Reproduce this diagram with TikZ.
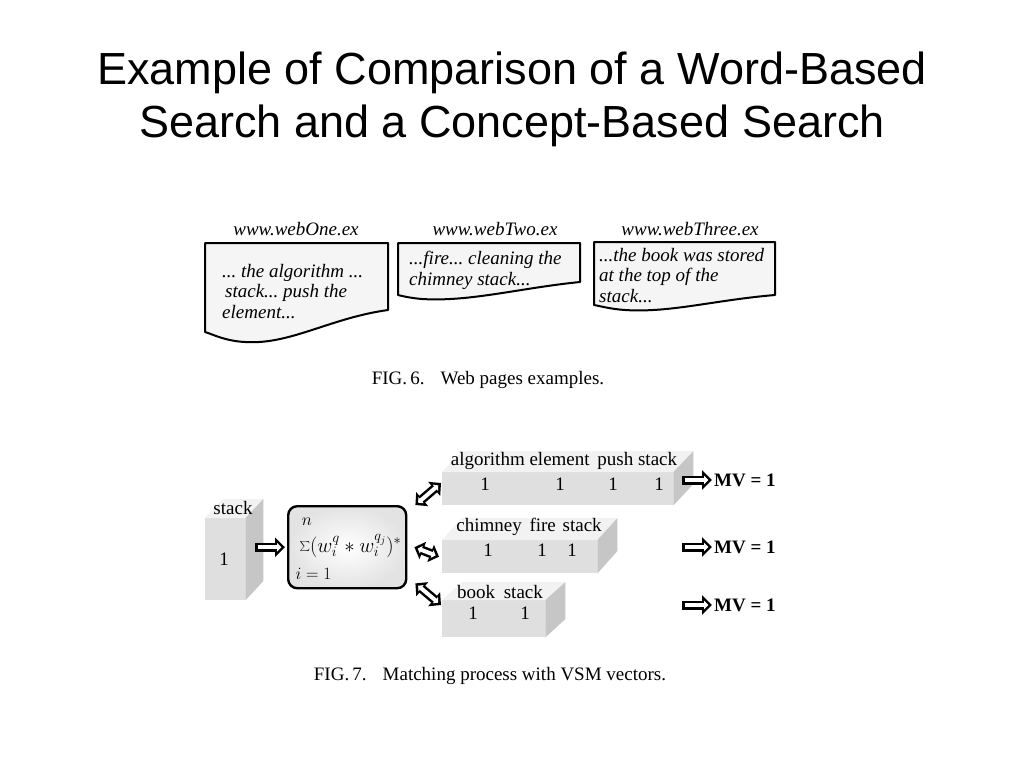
\documentclass[tikz,border=0pt]{standalone}
\usepackage{fontspec}
\setmainfont{Liberation Serif}
\newfontfamily\titlefont{Liberation Sans}
\usetikzlibrary{arrows.meta}
\frenchspacing

\tikzset{
  pagebox/.style={draw=black, line width=2pt, fill=gray!8, line join=round},
  urltext/.style={font=\fontsize{19}{21}\selectfont\itshape},
  pagetext/.style={font=\fontsize{19}{20.5}\selectfont\itshape, align=left, anchor=north west, inner sep=0pt},
  figcap/.style={font=\fontsize{19}{21}\selectfont},
  frontface/.style={fill=gray!25, draw=none, inner sep=0pt, anchor=north west},
  topface/.style={fill=gray!10},
  sideface/.style={fill=gray!45},
  celltext/.style={font=\fontsize{19}{21}\selectfont, inner sep=0pt},
  hollow/.style={line width=9pt, -{Triangle[length=10pt, width=19pt]},
    postaction={draw=white, line width=4pt, shorten <=2.5pt, shorten >=3.6pt,
      -{Triangle[length=4.4pt, width=8.6pt]}}},
  hollowboth/.style={line width=9pt, {Triangle[length=9pt, width=18pt]}-{Triangle[length=9pt, width=18pt]},
    postaction={draw=white, line width=4pt, shorten <=3.6pt, shorten >=3.6pt,
      {Triangle[length=3.8pt, width=7.8pt]}-{Triangle[length=3.8pt, width=7.8pt]}}},
  mvtext/.style={font=\fontsize{19}{21}\selectfont\bfseries, anchor=west, inner sep=0pt},
}

\begin{document}
\begin{tikzpicture}[x=1pt, y=-1pt, line join=round]
  \useasboundingbox[fill=white] (0,0) rectangle (1024,768);

  % title
  \node[font=\titlefont\fontsize{45}{53}\selectfont, align=center] (title) at (512,99)
    {Example of Comparison of a Word-Based\\Search and a Concept-Based Search};

  % web pages (fig. 6)
  \draw[pagebox] (205,243) -- (388,243) -- (388,310)
    .. controls (330,318) and (290,345) .. (245,342)
    .. controls (225,341) and (212,334) .. (205,332) -- cycle;
  \draw[pagebox] (398,243) -- (580,243) -- (580,282)
    .. controls (520,288) and (470,302) .. (422,299)
    .. controls (410,298) and (402,296) .. (398,295) -- cycle;
  \draw[pagebox] (594,242) -- (775,242) -- (775,295)
    .. controls (715,300) and (670,313) .. (625,310)
    .. controls (610,309) and (600,306) .. (594,305) -- cycle;

  \node[urltext] (url1) at (296,229) {www.webOne.ex};
  \node[urltext] (url2) at (495,229) {www.webTwo.ex};
  \node[urltext] (url3) at (690,229) {www.webThree.ex};

  \node[pagetext] (page1) at (222,264) {... the algorithm ...\\\hspace{3pt}stack... push the\\element...};
  \node[pagetext] (page2) at (409,251) {...fire... cleaning the\\chimney stack...};
  \node[pagetext] (page3) at (599,248) {...the book was stored\\at the top of the\\stack...};

  \node[figcap] (cap6) at (488,380) {FIG.\,6.\hspace{16pt}Web pages examples.};

  % query vector
  \node[frontface, minimum width=40, minimum height=82] (query) at (205,518) {};
  \fill[topface] (query.north west) -- ++(18,-19) -- ++(40,0) -- (query.north east) -- cycle;
  \fill[sideface] (query.north east) -- ++(18,-19) -- ++(0,82) -- (query.south east) -- cycle;
  \node[celltext] (qword) at (233,508) {stack};
  \node[celltext] (qval) at (224,559) {1};

  % similarity box
  \node[draw, line width=2.4pt, rounded corners=9pt, inner color=white, outer color=gray!22,
        minimum width=118, minimum height=82, anchor=north west] (sumbox) at (287,505) {};
  \node[font=\fontsize{18}{20}\selectfont] (upper) at (307,522) {$n$};
  \node[font=\fontsize{20}{22}\selectfont, anchor=west] (expr) at (296,546)
    {$\sum(w_i^{q} * w_i^{q_j})^{*}$};
  \node[font=\fontsize{18}{20}\selectfont, anchor=west] (lower) at (292,574) {$i = 1$};

  % document vectors
  \node[frontface, minimum width=231, minimum height=33] (vec1) at (442,472) {};
  \fill[topface] (vec1.north west) -- ++(20,-21) -- ++(231,0) -- (vec1.north east) -- cycle;
  \fill[sideface] (vec1.north east) -- ++(20,-21) -- ++(0,33) -- (vec1.south east) -- cycle;

  \node[frontface, minimum width=155, minimum height=33] (vec2) at (442,540) {};
  \fill[topface] (vec2.north west) -- ++(20,-22) -- ++(155,0) -- (vec2.north east) -- cycle;
  \fill[sideface] (vec2.north east) -- ++(20,-22) -- ++(0,33) -- (vec2.south east) -- cycle;

  \node[frontface, minimum width=103, minimum height=37] (vec3) at (442,600) {};
  \fill[topface] (vec3.north west) -- ++(20,-18) -- ++(103,0) -- (vec3.north east) -- cycle;
  \fill[sideface] (vec3.north east) -- ++(20,-18) -- ++(0,37) -- (vec3.south east) -- cycle;

  \node[celltext] (head1) at (564,461) {algorithm element\hspace{3pt} push stack};
  \foreach \x [count=\i] in {485,560,613,659}
    \node[celltext] (one1\i) at (\x,484) {1};
  \node[celltext] (head2) at (529,527) {chimney\hspace{3pt} fire\hspace{2pt} stack};
  \foreach \x [count=\i] in {488,542,572}
    \node[celltext] (one2\i) at (\x,550) {1};
  \node[celltext] (head3) at (500,592) {book\hspace{4pt} stack};
  \foreach \x [count=\i] in {473,525}
    \node[celltext] (one3\i) at (\x,613) {1};

  % matching values
  \node[mvtext] (mv1) at (714,480) {MV = 1};
  \node[mvtext] (mv2) at (714,547) {MV = 1};
  \node[mvtext] (mv3) at (714,605) {MV = 1};
  \coordinate (from1) at (682,480);
  \coordinate (from2) at (682,547);
  \coordinate (from3) at (682,605);

  % arrows
  \draw[hollow] (query.east |- sumbox.west) ++(10,0) coordinate (qout) -- ([xshift=-2pt]sumbox.west);
  \draw[hollowboth] ([shift={(8,0)}]sumbox.north east) -- ([shift={(-1,11)}]vec1.north west);
  \draw[hollowboth] ([shift={(7,0)}]sumbox.east) -- ([shift={(-3,0)}]vec2.west);
  \draw[hollowboth] ([shift={(8,-6)}]sumbox.south east) -- ([shift={(-1,5)}]vec3.north west);
  \foreach \i in {1,2,3}
    \draw[hollow] (from\i) -- ([xshift=-2pt]mv\i.west);

  \node[figcap] (cap7) at (490,676) {FIG.\,7.\hspace{16pt}Matching process with VSM vectors.};
\end{tikzpicture}
\end{document}
